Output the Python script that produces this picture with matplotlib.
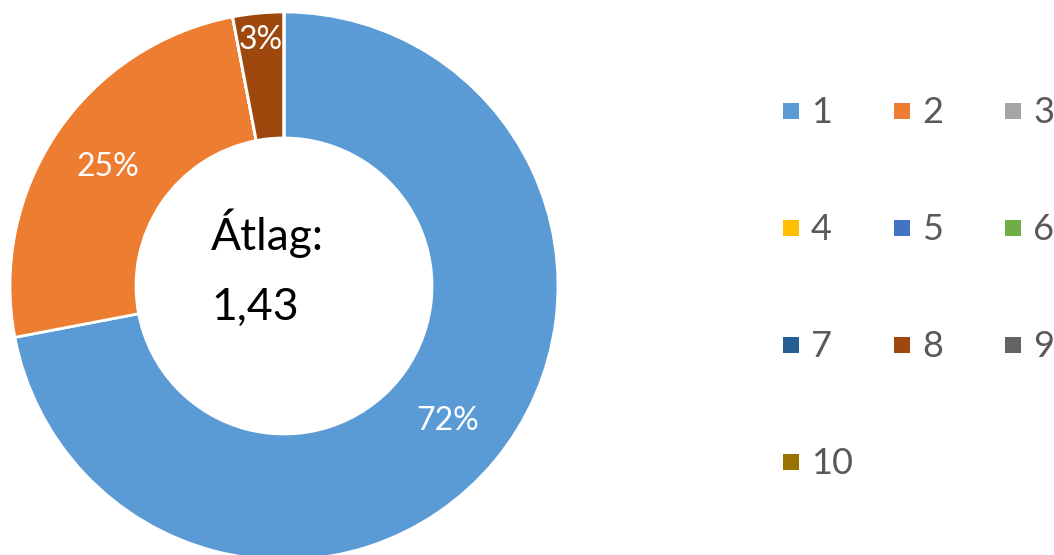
import matplotlib.pyplot as plt
import numpy as np

plt.rcParams['font.family'] = ['Lato', 'DejaVu Sans']

# Answer categories and share of answers (%)
categories = ['1', '2', '3', '4', '5', '6', '7', '8', '9', '10']
shares = [72, 25, 0, 0, 0, 0, 0, 3, 0, 0]
colors = ['#5B9BD5', '#ED7D31', '#A5A5A5', '#FFC000', '#4472C4',
          '#70AD47', '#255E91', '#9E480E', '#636363', '#997300']
center_title = 'Átlag:'
center_value = '1,43'

W, H = 1054, 555
fig = plt.figure(figsize=(W / 100, H / 100), dpi=100)
ax = fig.add_axes([0, 0, 1, 1])

cx, cy = 284, H - 286
R, r_in = 274, 148

wedges, texts, autotexts = ax.pie(
    shares, colors=colors, startangle=90, counterclock=False,
    center=(cx, cy), radius=R, frame=True,
    autopct=lambda p: f'{p:.0f}%' if p > 0 else '',
    pctdistance=0.775,
    wedgeprops=dict(width=R - r_in, edgecolor='white', linewidth=2),
    textprops=dict(color='white', fontsize=23))
ax.set_xlim(0, W)
ax.set_ylim(0, H)
ax.set_aspect('equal')
ax.axis('off')

# small slice label sits further out
for w, t, v in zip(wedges, autotexts, shares):
    if 0 < v < 5:
        mid = np.deg2rad((w.theta1 + w.theta2) / 2)
        t.set_position((cx + 0.9 * R * np.cos(mid), cy + 0.9 * R * np.sin(mid)))

# text in the hole
ax.text(211, H - 250, center_title, fontsize=32, color='black', va='baseline', ha='left')
ax.text(211, H - 320, center_value, fontsize=32, color='black', va='baseline', ha='left')

# legend, 3 columns filled row by row
for i, (lab, col) in enumerate(zip(categories, colors)):
    row, c = divmod(i, 3)
    x0 = 783 + c * 111
    yc = H - (111 + row * 117)
    ax.add_patch(plt.Rectangle((x0, yc - 8), 16, 16, facecolor=col, edgecolor='none'))
    ax.text(x0 + 28, yc - 12, lab, fontsize=26, color='#595959', va='baseline', ha='left')

fig.savefig('out.png', dpi=100)
